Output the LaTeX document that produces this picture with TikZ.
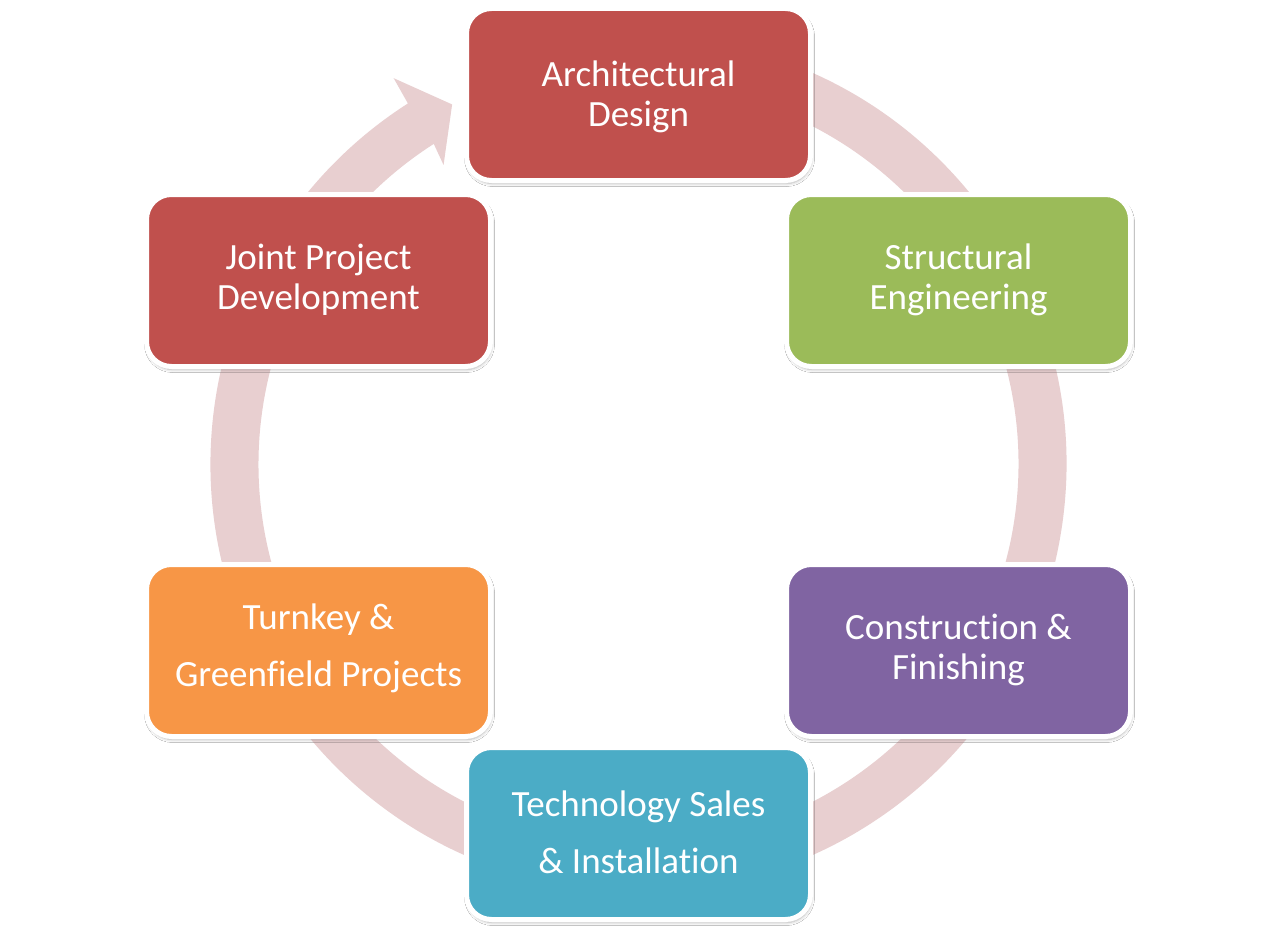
\documentclass[tikz,border=0pt]{standalone}
\usepackage{fontspec}
\setmainfont{Carlito}[Ligatures={NoCommon}]
\usetikzlibrary{shadows.blur}
\definecolor{cRed}{HTML}{C0504D}
\definecolor{cGreen}{HTML}{9BBB59}
\definecolor{cPurple}{HTML}{8064A2}
\definecolor{cTeal}{HTML}{4BACC6}
\definecolor{cOrange}{HTML}{F79646}
\definecolor{cRing}{HTML}{E8CFD0}
\tikzset{
  stagebox/.style={draw=white, line width=5pt, rounded corners=25pt,
    minimum width=344pt, minimum height=172pt, inner sep=0pt,
    blur shadow={shadow xshift=1pt, shadow yshift=-3pt, shadow blur steps=6, shadow opacity=30, shadow blur radius=3pt}},
  label/.style={anchor=base, text=white, inner sep=0pt, font=\fontsize{37}{40}\selectfont}
}
\begin{document}
\begin{tikzpicture}[x=1pt,y=-1pt]
\fill[white] (0,0) rectangle (1277,934);
\useasboundingbox (0,0) rectangle (1277,934);
% ring arrow
\fill[cRing, shift={(638.5,464)}]
  (-80:428) arc[start angle=-80, end angle=237.4, radius=428]
  -- (237.6:457) -- (242.6:405) -- (236.9:357) -- (237.4:380)
  arc[start angle=237.4, end angle=-80, radius=380] -- cycle;
% boxes
\node[stagebox, fill=cRed]    (arch)   at (638.5,94.5)  {};
\node[stagebox, fill=cGreen]  (struct) at (958.5,280.5) {};
\node[stagebox, fill=cPurple] (constr) at (958.5,650.5) {};
\node[stagebox, fill=cTeal]   (tech)   at (638.5,833.5) {};
\node[stagebox, fill=cOrange] (turn)   at (318.5,650.5) {};
\node[stagebox, fill=cRed]    (joint)  at (318.5,280.5) {};
% labels
\node[label] (archA) at (638.5,86) {Architectural};
\node[label] (archB) at (638.5,126) {Design};
\node[label] (structA) at (958.5,269) {Structural};
\node[label] (structB) at (958.5,309) {Engineering};
\node[label] (constrA) at (958.5,639) {Construction \&};
\node[label] (constrB) at (958.5,679) {Finishing};
\node[label] (techA) at (638.5,816) {Technology Sales};
\node[label] (techB) at (638.5,873) {\& Installation};
\node[label] (turnA) at (318.5,629) {Turnkey \&};
\node[label] (turnB) at (318.5,686) {Greenfield Projects};
\node[label] (jointA) at (318.5,269) {Joint Project};
\node[label] (jointB) at (318.5,309) {Development};
\end{tikzpicture}
\end{document}
